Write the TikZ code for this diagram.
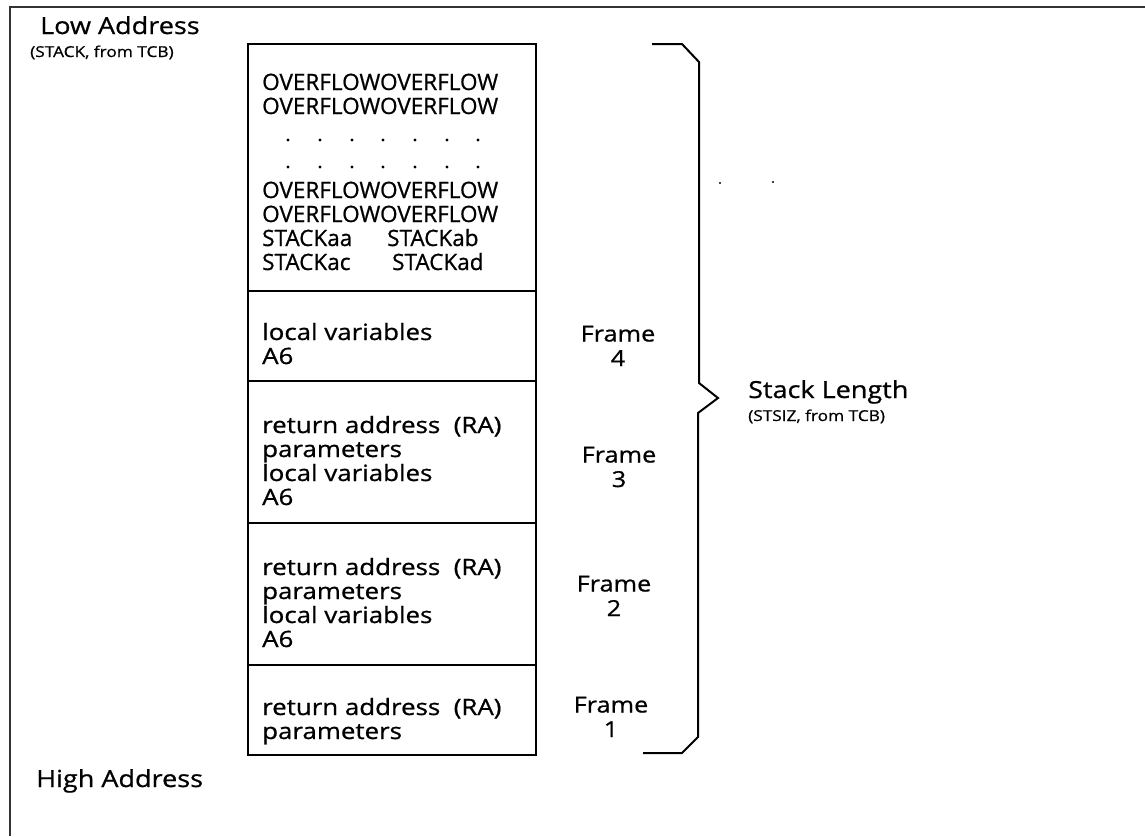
\documentclass[tikz,border=0pt]{standalone}
\usepackage{fontspec}
\setmainfont[FakeBold=0.8]{Open Sans}
\newfontfamily\widefont[FakeStretch=1.15,FakeBold=0.8]{Open Sans}
\begin{document}
\begin{tikzpicture}[x=1pt,y=-1pt,
  cell/.style={draw=black, line width=1.8pt, minimum width=288pt, inner sep=0pt, anchor=north west},
  % multi-line nodes: the base anchor sits on the baseline of the last line
  boxtxt/.style={font=\widefont\fontsize{22.5}{24}\selectfont, align=left, anchor=base west, inner sep=0pt},
  capstxt/.style={font=\fontsize{22.5}{24}\selectfont, align=left, anchor=base west, inner sep=0pt},
  framelbl/.style={font=\widefont\fontsize{22}{24.5}\selectfont, align=center, anchor=base, inner sep=0pt},
  biglbl/.style={font=\widefont\fontsize{23.5}{28}\selectfont, anchor=base west, inner sep=0pt},
  smalllbl/.style={font=\widefont\fontsize{15}{18}\selectfont, anchor=base west, inner sep=0pt},
  brace/.style={draw=black, line width=2pt, line join=miter},
  frameline/.style={draw=black!80, line width=1.4pt}]
\useasboundingbox (0,0) rectangle (1145,836);

% outer frame
\draw[frameline] (1145,7) -- (10,7) -- (10,836);

% address labels
\node[biglbl] (low) at (40,34) {Low Address};
\node[smalllbl] (lowsrc) at (30,57) {(STACK, from TCB)};
\node[biglbl] (high) at (36,787) {High Address};

% stack cells
\node[cell, minimum height=247pt] (ovf) at (247,43) {};
\node[cell, minimum height=90pt] (f4) at (247,290) {};
\node[cell, minimum height=142pt] (f3) at (247,380) {};
\node[cell, minimum height=142pt] (f2) at (247,522) {};
\node[cell, minimum height=90pt] (f1) at (247,664) {};

% overflow pattern
\node[capstxt] (ovfa) at (262,114) {OVERFLOWOVERFLOW\\OVERFLOWOVERFLOW};
\foreach \x in {288,320,352,383,415,447,478} {
  \fill (\x,140) circle (1.6pt);
  \fill (\x,167) circle (1.6pt);
}
\node[capstxt] (ovfb) at (262,222) {OVERFLOWOVERFLOW\\OVERFLOWOVERFLOW};
\node[capstxt] (saa) at (262,246) {STACKaa};
\node[capstxt] (sab) at (387,246) {STACKab};
\node[capstxt] (sac) at (262,270) {STACKac};
\node[capstxt] (sad) at (392,270) {STACKad};

% frame contents
\node[boxtxt] (t4) at (262,364) {local variables\\A6};
\node[boxtxt] (t3) at (262,505) {return address\ \ (RA)\\parameters\\local variables\\A6};
\node[boxtxt] (t2) at (262,647) {return address\ \ (RA)\\parameters\\local variables\\A6};
\node[boxtxt] (t1) at (262,739) {return address\ \ (RA)\\parameters};

% frame labels
\node[framelbl] (l4) at (618,366) {Frame\\4};
\node[framelbl] (l3) at (619,487) {Frame\\3};
\node[framelbl] (l2) at (614,616) {Frame\\2};
\node[framelbl] (l1) at (611,737) {Frame\\1};

% stack length brace
\draw[brace] (652,44) -- (682,44) -- (699,62) -- (699,383) -- (718,398)
  -- (698,413) -- (698,737) -- (682,753) -- (643,753);
\node[biglbl] (slen) at (748,398) {Stack Length};
\node[smalllbl] (ssrc) at (748,421) {(STSIZ, from TCB)};

% stray specks
\fill (720,183) circle (1.2pt);
\fill (773,182) circle (1.2pt);
\end{tikzpicture}
\end{document}
